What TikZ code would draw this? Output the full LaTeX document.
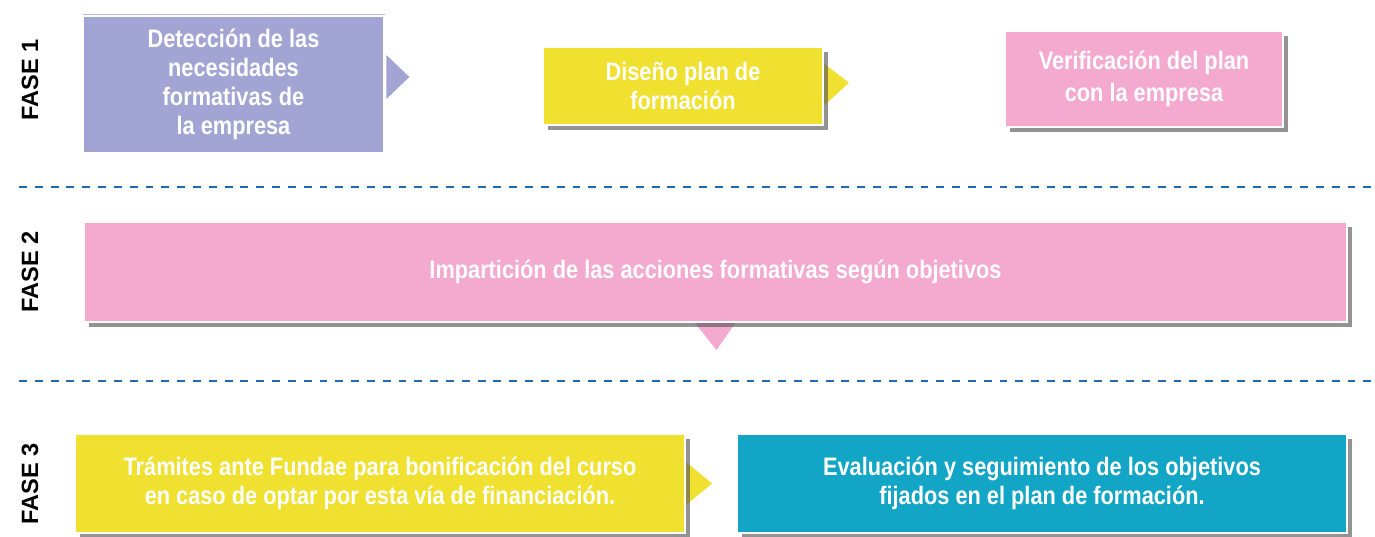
\documentclass[tikz,border=0pt]{standalone}
\usepackage{fontspec}
\setmainfont{Liberation Sans}
\newfontfamily\boxfont[FakeStretch=0.86]{Liberation Sans}
\usetikzlibrary{calc,shadows,backgrounds}

\definecolor{detcol}{RGB}{162,165,211}
\definecolor{yelcol}{RGB}{240,224,48}
\definecolor{pinkcol}{RGB}{244,169,206}
\definecolor{tealcol}{RGB}{18,165,198}
\definecolor{dashcol}{RGB}{35,104,175}

\begin{document}
\begin{tikzpicture}[
	phasebox/.style={inner sep=0pt, align=center, text=white,
		font=\boxfont\bfseries\fontsize{14.4}{16.6}\selectfont},
	shadowbox/.style={phasebox, draw=white, line width=1.2pt,
		drop shadow={shadow xshift=0.1cm, shadow yshift=-0.1cm, fill=black!65, opacity=0.65}},
	phaselabel/.style={rotate=90, font=\bfseries\fontsize{13.4}{15}\selectfont},
	separator/.style={dashcol, line width=1.7pt, dash pattern=on 4.5pt off 4.5pt}
	]
	\useasboundingbox (0,0) rectangle (27.5,-10.74);

	% fase 1
	\node [phaselabel] (f1) at (0.6,-1.6) {FASE 1};
	\node [phasebox, fill=detcol, minimum width=5.98cm, minimum height=2.7cm] (det) at (4.67,-1.69)
		{Detecci\'on de las\\necesidades\\formativas de\\la empresa};
	\draw [detcol!80, line width=0.6pt] ($(det.north west)+(-0.02,0.04)$) -- ($(det.north east)+(0.04,0.04)$);
	\fill [detcol] ($(det.east)+(0.06,0.59)$) -- ($(det.east)+(0.52,0.15)$) -- ($(det.east)+(0.06,-0.29)$) -- cycle;

	\node [shadowbox, fill=yelcol, minimum width=5.6cm, minimum height=1.57cm] (dis) at (13.66,-1.716)
		{Dise\~no plan de\\formaci\'on};
	\node [shadowbox, fill=pinkcol, minimum width=5.57cm, minimum height=1.91cm] (ver) at (22.88,-1.577)
		{Verificaci\'on del plan\\[1.5pt]con la empresa};
	\begin{scope}[on background layer]
		\fill [yelcol] ($(dis.east)+(-0.05,0.48)$) -- ($(dis.east)+(0.5,0.06)$) -- ($(dis.east)+(-0.05,-0.44)$) -- cycle;
	\end{scope}

	\coordinate (s1a) at (0.38,-3.74);
	\coordinate (s1b) at (27.5,-3.74);
	\draw [separator] (s1a) -- (s1b);

	% fase 2
	\node [phaselabel] (f2) at (0.6,-5.44) {FASE 2};
	\node [shadowbox, fill=pinkcol, minimum width=25.26cm, minimum height=2cm] (imp) at (14.31,-5.44)
		{Impartici\'on de las acciones formativas seg\'un objetivos};
	\begin{scope}[on background layer]
		\fill [pinkcol] ($(imp.south)+(-0.45,0.05)$) -- ($(imp.south)+(0.02,-0.54)$) -- ($(imp.south)+(0.43,0.05)$) -- cycle;
	\end{scope}

	\coordinate (s2a) at (0.38,-7.62);
	\coordinate (s2b) at (27.5,-7.62);
	\draw [separator] (s2a) -- (s2b);

	% fase 3
	\node [phaselabel] (f3) at (0.6,-9.68) {FASE 3};
	\node [shadowbox, fill=yelcol, minimum width=12.2cm, minimum height=1.98cm] (tra) at (7.6,-9.67)
		{Tr\'amites ante Fundae para bonificaci\'on del curso\\en caso de optar por esta v\'ia de financiaci\'on.};
	\node [shadowbox, fill=tealcol, minimum width=12.2cm, minimum height=1.98cm] (eva) at (20.84,-9.67)
		{Evaluaci\'on y seguimiento de los objetivos\\fijados en el plan de formaci\'on.};
	\begin{scope}[on background layer]
		\fill [yelcol] ($(tra.east)+(-0.05,0.47)$) -- ($(tra.east)+(0.52,0)$) -- ($(tra.east)+(-0.05,-0.47)$) -- cycle;
	\end{scope}
\end{tikzpicture}
\end{document}
